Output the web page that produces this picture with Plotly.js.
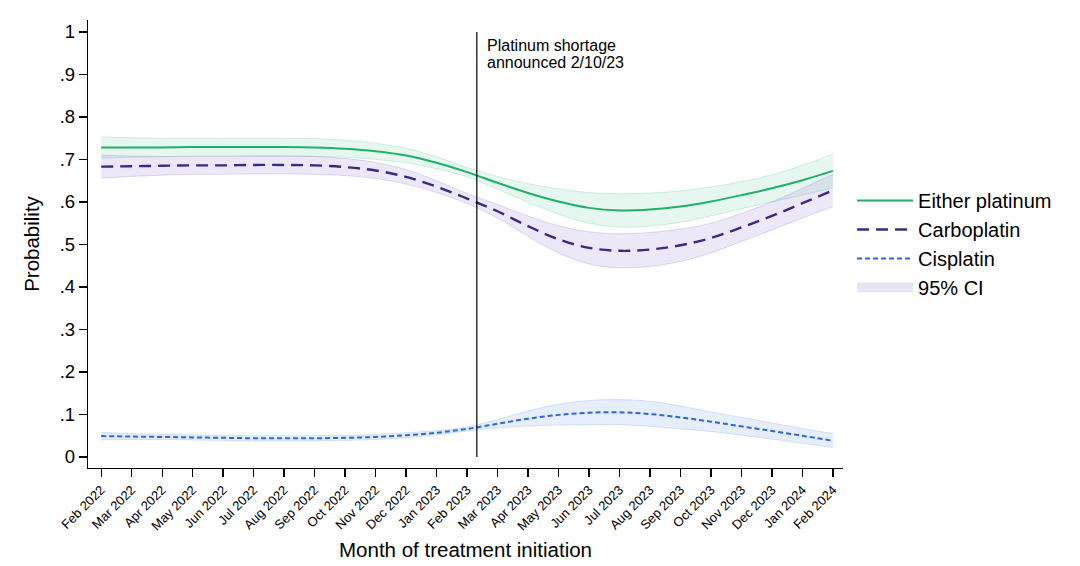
<!DOCTYPE html>
<html>
<head>
<meta charset="utf-8">
<script src="https://cdn.plot.ly/plotly-3.0.1.min.js"></script>
<style>html,body{margin:0;padding:0;background:#fff;}#chart{width:1080px;height:566px;}</style>
</head>
<body>
<div id="chart"></div>
<script>
// Month labels (index 0 = Feb 2022)
const months = ["Feb 2022","Mar 2022","Apr 2022","May 2022","Jun 2022","Jul 2022","Aug 2022","Sep 2022","Oct 2022","Nov 2022","Dec 2022","Jan 2023","Feb 2023","Mar 2023","Apr 2023","May 2023","Jun 2023","Jul 2023","Aug 2023","Sep 2023","Oct 2023","Nov 2023","Dec 2023","Jan 2024","Feb 2024"];

const either   = [0.728,0.728,0.728,0.729,0.729,0.729,0.729,0.728,0.725,0.719,0.709,0.692,0.670,0.645,0.621,0.601,0.586,0.580,0.582,0.589,0.601,0.616,0.632,0.651,0.673];
const eitherLo = [0.703,0.705,0.706,0.708,0.708,0.708,0.708,0.707,0.705,0.700,0.692,0.678,0.659,0.630,0.599,0.571,0.550,0.541,0.543,0.552,0.567,0.584,0.600,0.616,0.633];
const eitherHi = [0.753,0.751,0.750,0.750,0.750,0.750,0.750,0.749,0.745,0.738,0.726,0.706,0.681,0.660,0.643,0.631,0.622,0.619,0.621,0.626,0.635,0.648,0.664,0.686,0.713];

const carbo    = [0.683,0.684,0.685,0.686,0.686,0.687,0.687,0.686,0.682,0.674,0.659,0.636,0.608,0.578,0.543,0.512,0.492,0.485,0.488,0.498,0.515,0.540,0.567,0.597,0.627];
const carboLo  = [0.656,0.660,0.663,0.665,0.665,0.666,0.666,0.665,0.662,0.655,0.642,0.622,0.596,0.562,0.519,0.480,0.454,0.445,0.448,0.460,0.480,0.507,0.534,0.562,0.589];
const carboHi  = [0.710,0.708,0.707,0.707,0.707,0.708,0.708,0.707,0.702,0.693,0.676,0.650,0.620,0.594,0.567,0.544,0.530,0.525,0.528,0.536,0.550,0.573,0.600,0.632,0.665];

const cis      = [0.049,0.048,0.047,0.046,0.045,0.044,0.044,0.044,0.045,0.047,0.051,0.057,0.066,0.078,0.090,0.099,0.104,0.105,0.101,0.093,0.083,0.072,0.061,0.050,0.038];
const cisLo    = [0.040,0.041,0.041,0.040,0.039,0.038,0.038,0.038,0.039,0.041,0.045,0.052,0.061,0.068,0.073,0.075,0.076,0.076,0.072,0.066,0.060,0.051,0.042,0.032,0.022];
const cisHi    = [0.058,0.055,0.053,0.052,0.051,0.050,0.050,0.050,0.051,0.053,0.057,0.062,0.071,0.088,0.108,0.124,0.133,0.135,0.131,0.120,0.106,0.093,0.080,0.067,0.055];

const yTickVals = [0,0.1,0.2,0.3,0.4,0.5,0.6,0.7,0.8,0.9,1];
const yTickText = ["0",".1",".2",".3",".4",".5",".6",".7",".8",".9","1"];

const shortageX = 12 + 9/28;   // 10 Feb 2023 on the month index scale
const shortageLine1 = "Platinum shortage";
const shortageLine2 = "announced 2/10/23";

const xIdx = months.map((m,i)=>i);

const GREEN = "#1fb06a", PURPLE = "#3b2a84", BLUE = "#2a66e0";
const FONT = "Liberation Sans, Arial, Helvetica, sans-serif";

function band(lo, hi, fill, edge){
  return [
    {x:xIdx, y:lo, type:"scatter", mode:"lines", line:{color:edge,width:1,shape:"spline"}, showlegend:false, hoverinfo:"skip"},
    {x:xIdx, y:hi, type:"scatter", mode:"lines", fill:"tonexty", fillcolor:fill, line:{color:edge,width:1,shape:"spline"}, showlegend:false, hoverinfo:"skip"}
  ];
}

const traces = [
  ...band(eitherLo, eitherHi, "rgba(60,190,130,0.13)", "rgba(60,190,130,0.22)"),
  ...band(carboLo, carboHi, "rgba(120,95,200,0.14)", "rgba(120,95,200,0.22)"),
  ...band(cisLo, cisHi, "rgba(80,135,235,0.14)", "rgba(80,135,235,0.22)"),
  {x:xIdx, y:either, type:"scatter", mode:"lines", name:"Either platinum",
   line:{color:GREEN,width:2,shape:"spline"}},
  {x:xIdx, y:carbo, type:"scatter", mode:"lines", name:"Carboplatin",
   line:{color:PURPLE,width:2.4,shape:"spline",dash:"12px,7px"}},
  {x:xIdx, y:cis, type:"scatter", mode:"lines", name:"Cisplatin",
   line:{color:BLUE,width:2,shape:"spline",dash:"5px,3px"}},
  {x:[null], y:[null], type:"scatter", mode:"lines", name:"95% CI",
   line:{color:"#e7e4f3",width:18}}
];

const layout = {
  width:1080, height:566,
  paper_bgcolor:"#ffffff", plot_bgcolor:"#ffffff",
  font:{family:FONT, color:"#000", size:18},
  margin:{l:88, r:237, t:20, b:98},
  showlegend:true,
  legend:{x:1.012, xanchor:"left", y:0.5, yanchor:"middle", font:{size:20},
          traceorder:"normal", itemwidth:56, bgcolor:"rgba(0,0,0,0)"},
  xaxis:{range:[-0.43,24.33], tickvals:xIdx, ticktext:months, tickangle:-45,
         tickfont:{size:13}, ticks:"outside", ticklen:8, tickcolor:"#000", tickwidth:1.2,
         showline:true, linecolor:"#000", linewidth:1.2, showgrid:false, zeroline:false,
         title:{text:"Month of treatment initiation", font:{size:20.5}, standoff:10}},
  yaxis:{range:[-0.026,1.028], tickvals:yTickVals, ticktext:yTickText,
         tickfont:{size:18.5}, ticks:"outside", ticklen:8, tickcolor:"#000", tickwidth:1.2,
         showline:true, linecolor:"#000", linewidth:1.2, showgrid:false, zeroline:false,
         title:{text:"Probability", font:{size:20.5}, standoff:14}},
  shapes:[{type:"line", xref:"x", yref:"y", x0:shortageX, x1:shortageX, y0:0, y1:1,
           line:{color:"#000", width:1.2}}],
  annotations:[
    {xref:"x", yref:"y", x:shortageX, y:0.967, xanchor:"left", yanchor:"middle", xshift:8,
     text:shortageLine1, showarrow:false, align:"left", font:{size:16, color:"#000"}},
    {xref:"x", yref:"y", x:shortageX, y:0.927, xanchor:"left", yanchor:"middle", xshift:8,
     text:shortageLine2, showarrow:false, align:"left", font:{size:16, color:"#000"}}
  ]
};

Plotly.newPlot("chart", traces, layout, {displayModeBar:false, staticPlot:true});
</script>
</body>
</html>
